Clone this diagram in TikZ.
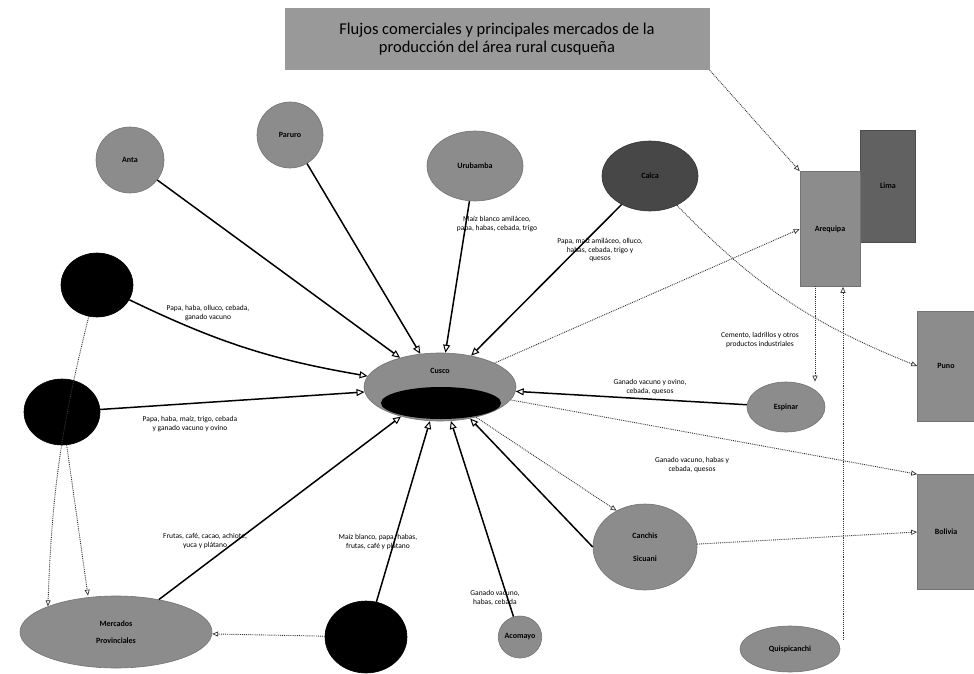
\documentclass[tikz,border=0pt]{standalone}
\usepackage{fontspec}
\setmainfont{Carlito}
\usetikzlibrary{arrows.meta,shapes.geometric}
\begin{document}
\begin{tikzpicture}[x=1pt,y=-1pt,
  gnode/.style={ellipse, fill=black!45, draw=black!55, line width=0.6pt, inner sep=0pt, font=\fontsize{8}{9}\selectfont\bfseries, align=center},
  bnode/.style={gnode, fill=black, draw=black},
  dnode/.style={gnode, fill=black!72, draw=black!80},
  rectnode/.style={rectangle, fill=black!45, draw=black!55, line width=0.6pt, inner sep=0pt, font=\fontsize{8}{9}\selectfont\bfseries},
  flow/.style={line width=1.5pt, -{Triangle[open,length=8pt,width=7pt,line width=1pt]}},
  dotflow/.style={densely dotted, line width=0.9pt, black!80, -{Triangle[open,length=6pt,width=5pt,line width=0.7pt]}},
  lab/.style={font=\fontsize{7.5}{8.5}\selectfont, align=center, inner sep=1pt}]
\useasboundingbox (0,0) rectangle (974,674);
% title
\node[rectangle, fill=black!40, minimum width=425, minimum height=62, inner sep=0pt,
      font=\fontsize{16.5}{18}\selectfont, align=center] (title) at (497,39)
      {Flujos comerciales y principales mercados de la\\producción del área rural cusqueña};
% rectangles right
\node[rectangle, fill=black!62, draw=black!70, line width=0.6pt, minimum width=55, minimum height=112, inner sep=0pt, font=\fontsize{8}{9}\selectfont\bfseries] (lima) at (888,186) {Lima};
\node[rectnode, minimum width=60, minimum height=115] (areq) at (830,229) {Arequipa};
\node[rectnode, minimum width=57, minimum height=110] (puno) at (946,366) {Puno};
\node[rectnode, minimum width=57, minimum height=115] (boli) at (946,532) {Bolivia};
% center
\node[gnode, minimum width=152, minimum height=68] (cen) at (440,387) {};
\node[ellipse, fill=black, minimum width=120, minimum height=32, inner sep=0pt, font=\fontsize{8}{9}\selectfont\bfseries] (ceni) at (441,403) {Mercado};
\node[font=\fontsize{8}{9}\selectfont\bfseries, inner sep=0pt] (cenl) at (440,371) {Cusco};
% provinces
\node[gnode, minimum width=68, minimum height=66] (anta) at (130,160) {Anta};
\node[gnode, minimum width=66, minimum height=66] (paru) at (290,135) {Paruro};
\node[gnode, minimum width=96, minimum height=70] (urub) at (475,166) {Urubamba};
\node[dnode, minimum width=96, minimum height=70] (calc) at (650,176) {Calca};
\node[bnode, minimum width=72, minimum height=64] (chum) at (97,285) {Chumbivilcas};
\node[bnode, minimum width=76, minimum height=66] (cana) at (62,412) {Canas};
\node[bnode, minimum width=82, minimum height=72] (pauc) at (366,637) {Paucartambo};
\node[gnode, minimum width=192, minimum height=72] (merc) at (116,632) {Mercados\\[8pt]Provinciales};
\node[gnode, minimum width=42, minimum height=42] (acom) at (520,637) {Acomayo};
\node[gnode, minimum width=104, minimum height=86] (canc) at (645,547) {Canchis\\[14pt]Sicuani};
\node[gnode, minimum width=78, minimum height=50] (espi) at (786,407) {Espinar};
\node[gnode, minimum width=100, minimum height=46] (quis) at (790,649) {Quispicanchi};
% solid flows to center
\draw[flow] (anta) -- (cen);
\draw[flow] (paru) -- (cen);
\draw[flow] (urub) -- (cen);
\draw[flow] (calc) -- (cen);
\draw[flow] (chum) to[bend right=8] (cen);
\draw[flow] (cana) -- (cen);
\draw[flow] (merc) -- (cen);
\draw[flow] (pauc) -- (cen);
\draw[flow] (acom) -- (cen);
\draw[flow] (canc.west) -- (cen);
\draw[flow] (espi) -- (cen);
% dotted flows
\draw[dotflow] (title.south east) -- (areq.north west);
\draw[dotflow] (cen) -- (areq.west);
\draw[dotflow] (calc) to[bend right=12] (puno.west);
\draw[dotflow] (cen) -- (boli.north west);
\draw[dotflow] (cen.-40) -- (canc.128);
\draw[dotflow] (canc) -- (boli.west);
\coordinate (a1) at (815,286);
\draw[dotflow] (a1) -- (espi.north -| a1);
\coordinate (q1) at (843,640);
\draw[dotflow] (q1) -- (q1 |- areq.south);
\draw[dotflow] (chum) to[bend right=6] (merc.north west);
\draw[dotflow] (cana) -- ([xshift=-28pt]merc.north);
\draw[dotflow] (pauc) -- (merc);
% labels
\node[lab] (l1) at (497,224) {Maíz blanco amiláceo,\\papa, habas, cebada, trigo};
\node[lab] (l2) at (600,250) {Papa, maíz amiláceo, olluco,\\habas, cebada, trigo y\\quesos};
\node[lab] (l3) at (208,313) {Papa, haba, olluco, cebada,\\ganado vacuno};
\node[lab] (l4) at (190,424) {Papa, haba, maíz, trigo, cebada\\y ganado vacuno y ovino};
\node[lab] (l5) at (205,541) {Frutas, café, cacao, achiote,\\yuca y plátano};
\node[lab] (l6) at (378,542) {Maíz blanco, papa, habas,\\frutas, café y plátano};
\node[lab] (l7) at (495,598) {Ganado vacuno,\\habas, cebada};
\node[lab] (l8) at (650,387) {Ganado vacuno y ovino,\\cebada, quesos};
\node[lab] (l9) at (692,465) {Ganado vacuno, habas y\\cebada, quesos};
\node[lab] (l10) at (760,340) {Cemento, ladrillos y otros\\productos industriales};
\end{tikzpicture}
\end{document}
